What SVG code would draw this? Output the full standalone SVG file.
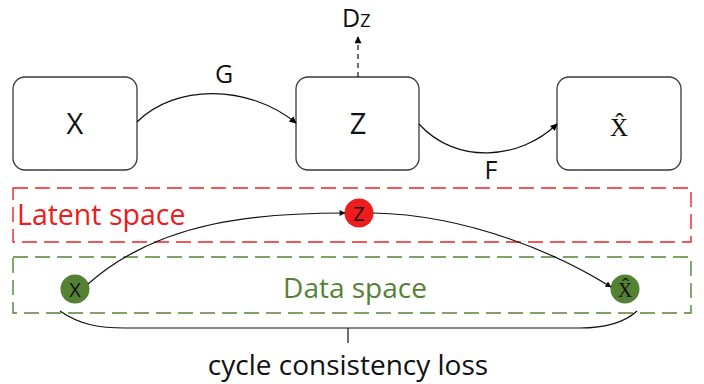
<svg xmlns="http://www.w3.org/2000/svg" width="704" height="384" viewBox="0 0 704 384">
<defs>
<marker id="ah" viewBox="0 0 10 10" refX="9" refY="5" markerWidth="8" markerHeight="7" orient="auto" markerUnits="userSpaceOnUse"><path d="M0,0 L10,5 L0,10 z" fill="#000"/></marker>
<marker id="ahs" viewBox="0 0 10 10" refX="9" refY="5" markerWidth="7" markerHeight="6" orient="auto" markerUnits="userSpaceOnUse"><path d="M0,0 L10,5 L0,10 z" fill="#111"/></marker>
</defs>
<style>
.box{fill:#fff;stroke:#3a3a3a;stroke-width:1.3}
.t{font-family:"Open Sans","Liberation Sans",sans-serif;fill:#111}
.s{font-family:"Liberation Serif",serif;fill:#111}
.c{fill:none;stroke:#111;stroke-width:1.2}
.dash{fill:none;stroke-width:1.4;stroke-dasharray:15,7}
</style>
<rect width="704" height="384" fill="#fff"/>
<g id="node-x"><rect class="box" x="13" y="77" width="124" height="93" rx="12"/><text class="t" x="75" y="134" font-size="29" text-anchor="middle">X</text></g>
<g id="node-z"><rect class="box" x="296" y="77" width="123" height="93" rx="12"/><text class="t" x="358" y="134" font-size="29" text-anchor="middle">Z</text></g>
<g id="node-xhat"><rect class="box" x="557" y="77" width="124" height="93" rx="12"/><text class="s" x="619" y="136" font-size="25" text-anchor="middle">X̂</text></g>
<g id="node-dz"><text class="t" x="342" y="27" font-size="25" text-anchor="start">D<tspan font-size="18">Z</tspan></text></g>
<g id="latent-space"><rect class="dash" x="13" y="188" width="678" height="54" stroke="#ee2222"/><text x="17" y="225" font-family="Open Sans,Liberation Sans,sans-serif" font-size="28.5" fill="#ee1c1c">Latent space</text></g>
<g id="data-space"><rect class="dash" x="13" y="257" width="678" height="56" stroke="#548235"/><text x="355" y="298" font-family="Open Sans,Liberation Sans,sans-serif" font-size="28" fill="#548235" text-anchor="middle">Data space</text></g>
<g id="node-z-small"><circle cx="359" cy="213" r="14.5" fill="#ee1c1c"/><text class="t" x="359" y="221" font-size="20" text-anchor="middle">Z</text></g>
<g id="node-x-small"><circle cx="75" cy="289" r="14.5" fill="#548235"/><text class="t" x="75" y="297" font-size="20" text-anchor="middle">X</text></g>
<g id="node-xhat-small"><circle cx="625" cy="289" r="14.5" fill="#548235"/><text class="s" x="625" y="297" font-size="20" text-anchor="middle">X̂</text></g>
<g id="connectors">
<path class="c" d="M137,122 C175,84 248,84 296,123" marker-end="url(#ah)"/>
<path class="c" d="M419,124 C456,165 520,160 557,124" marker-end="url(#ah)"/>
<path class="c" d="M358,77 L358,37" stroke-dasharray="5,4" marker-end="url(#ah)"/>
<path class="c" d="M88,284 C160,220 260,213 345,213" stroke-width="1" marker-end="url(#ahs)"/>
<path class="c" d="M373,213 C470,215 560,255 611,287" stroke-width="1" marker-end="url(#ahs)"/>
<path class="c" d="M60,311 C80,325 100,328 125,328 L580,328 C605,328 625,322 637,311" stroke-width="1.4"/>
<path class="c" d="M348,328 L348,343" stroke-width="1.4"/>
</g>
<text class="t" x="224" y="83" font-size="25" text-anchor="middle">G</text>
<text class="t" x="491" y="179" font-size="25" text-anchor="middle">F</text>
<text class="t" x="348" y="375" font-size="28" text-anchor="middle">cycle consistency loss</text>
</svg>
